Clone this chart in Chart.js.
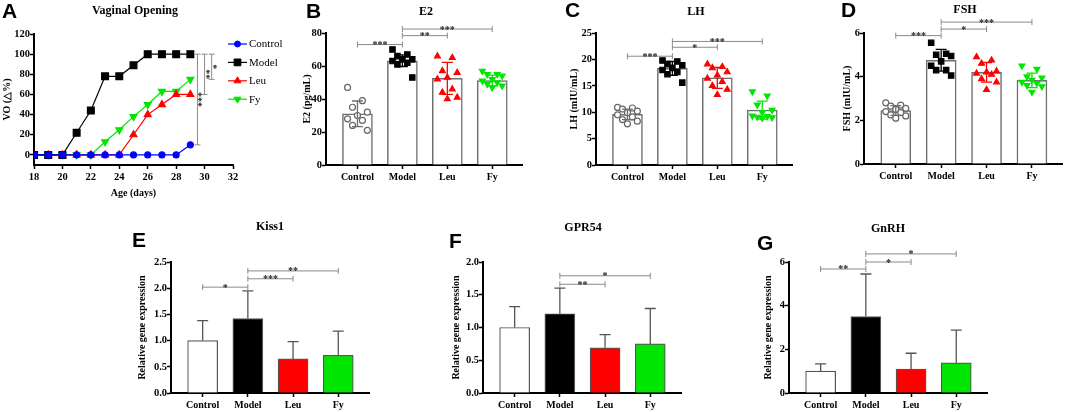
<!DOCTYPE html>
<html>
<head>
<meta charset="utf-8">
<script src="https://cdn.jsdelivr.net/npm/chart.js@4.4.0/dist/chart.umd.min.js"></script>
<style>
  html, body { margin: 0; padding: 0; background: #fff; overflow: hidden; }
  body { width: 1065px; height: 412px; position: relative; }
  canvas { position: absolute; }
  .lbl { position: absolute; font-family: "Liberation Sans", Arial, sans-serif; font-weight: bold; font-size: 21px; line-height: 21px; color: #000; }
  .ttl { position: absolute; font-family: "Liberation Serif", "Times New Roman", serif; font-weight: bold; font-size: 12px; line-height: 14px; transform: translateX(-50%); white-space: nowrap; color: #000; }
</style>
</head>
<body>
<canvas id="chartA"></canvas>
<canvas id="chartB"></canvas>
<canvas id="chartC"></canvas>
<canvas id="chartD"></canvas>
<canvas id="chartE"></canvas>
<canvas id="chartF"></canvas>
<canvas id="chartG"></canvas>

<div class="lbl" style="left:2px;top:0px">A</div>
<div class="lbl" style="left:306px;top:0px">B</div>
<div class="lbl" style="left:565px;top:-1px">C</div>
<div class="lbl" style="left:841px;top:-1px">D</div>
<div class="lbl" style="left:132px;top:229px">E</div>
<div class="lbl" style="left:449px;top:230px">F</div>
<div class="lbl" style="left:757px;top:232px">G</div>

<div class="ttl" style="left:135px;top:3px">Vaginal Opening</div>
<div class="ttl" style="left:426px;top:4px">E2</div>
<div class="ttl" style="left:696px;top:4px">LH</div>
<div class="ttl" style="left:965px;top:2px">FSH</div>
<div class="ttl" style="left:270px;top:219px">Kiss1</div>
<div class="ttl" style="left:583px;top:220px">GPR54</div>
<div class="ttl" style="left:888px;top:221px">GnRH</div>

<script>
const groups = ['Control', 'Model', 'Leu', 'Fy'];

// A - vaginal opening (%)
const voDays = [18, 19, 20, 21, 22, 23, 24, 25, 26, 27, 28, 29];
const voControl = [0, 0, 0, 0, 0, 0, 0, 0, 0, 0, 0, 10];
const voModel = [0, 0, 0, 22, 44, 78, 78, 89, 100, 100, 100, 100];
const voLeu = [0, 0, 0, 0, 0, 0, 0, 20, 40, 50, 60, 60];
const voFy = [0, 0, 0, 0, 0, 13, 25, 38, 50, 63, 63, 75];
const voSig = [[29.5, 10, 100, '***'], [30, 60, 100, '**'], [30.5, 75, 100, '*']];

// B - E2
const e2Mean = [31, 63.2, 52.5, 51.2];
const e2Sd = [7.8, 3.5, 9.7, 3.3];
const e2Control = [47, 39, 35, 32, 30, 28, 27, 24, 21];
const e2Model = [70, 67, 66, 64, 64, 63, 62, 61, 53];
const e2Leu = [66, 65, 57, 56, 53, 52, 46, 44, 41, 40];
const e2Fy = [57, 55, 55, 54, 52, 51, 50, 49, 48, 47];
const e2Sig = [[0, 1, 73, '***'], [1, 2, 78.4, '**'], [1, 3, 82.4, '***']];

// C - LH
const lhMean = [9.6, 18.3, 16.5, 10.4];
const lhSd = [1.0, 1.3, 2.0, 1.7];
const lhControl = [10.9, 10.8, 10.6, 10.2, 9.9, 9.5, 9.1, 8.6, 8.3, 7.8];
const lhModel = [19.8, 19.6, 19.1, 18.9, 18.4, 18.0, 17.6, 17.2, 15.6];
const lhLeu = [19.1, 18.6, 18.4, 17.6, 17.0, 16.4, 15.8, 15.0, 14.3, 13.3];
const lhFy = [13.9, 13.1, 11.4, 10.4, 10.0, 9.3, 9.2, 9.1, 9.0, 8.9];
const lhSig = [[0, 1, 20.6, '***'], [1, 2, 22.3, '*'], [1, 3, 23.4, '***']];

// D - FSH
const fshMean = [2.45, 4.75, 4.2, 3.83];
const fshSd = [0.22, 0.5, 0.45, 0.33];
const fshControl = [2.8, 2.7, 2.65, 2.55, 2.5, 2.4, 2.35, 2.25, 2.2, 2.1];
const fshModel = [5.55, 5.05, 5.0, 4.95, 4.7, 4.5, 4.3, 4.3, 4.05];
const fshLeu = [4.9, 4.75, 4.6, 4.25, 4.2, 4.15, 4.1, 3.9, 3.75, 3.4];
const fshFy = [4.5, 4.35, 4.0, 3.95, 3.85, 3.75, 3.7, 3.6, 3.55, 3.3];
const fshSig = [[0, 1, 5.88, '***'], [1, 2, 6.18, '*'], [1, 3, 6.5, '***']];

// E-G - relative gene expression
const kiss1Mean = [1.0, 1.42, 0.65, 0.72];
const kiss1Sd = [0.38, 0.53, 0.33, 0.46];
const kiss1Sig = [[0, 1, 2.02, '*'], [1, 2, 2.18, '***'], [1, 3, 2.33, '**']];
const gpr54Mean = [1.0, 1.21, 0.69, 0.75];
const gpr54Sd = [0.32, 0.39, 0.20, 0.54];
const gpr54Sig = [[1, 2, 1.66, '**'], [1, 3, 1.79, '*']];
const gnrhMean = [1.0, 3.5, 1.1, 1.38];
const gnrhSd = [0.33, 1.95, 0.72, 1.5];
const gnrhSig = [[0, 1, 5.68, '**'], [1, 2, 6.0, '*'], [1, 3, 6.37, '*']];

const serif = '"Liberation Serif", "Times New Roman", serif';
const tickFont = { family: serif, size: 10.5, weight: 'bold' };
const catFont = { family: serif, size: 10, weight: 'bold' };
const axTitleFont = { family: serif, size: 10, weight: 'bold' };
const green = '#00e600';

// marker look per group (Control, Model, Leu, Fy)
const markers = [
  { style: 'circle', rot: 0, r: 3, fill: '#ffffff', edge: '#666666' },
  { style: 'rect', rot: 0, r: 3.8, fill: '#000000', edge: '#000000' },
  { style: 'triangle', rot: 0, r: 3.4, fill: '#ff0000', edge: '#ff0000' },
  { style: 'triangle', rot: 180, r: 3.4, fill: green, edge: green }
];

// spread dots sideways inside each bar
function spread(j) {
  return ((j * 3) % 5 - 2) * 0.11;
}

function sizeCanvas(id, L, T, R, B, aw, xh, pr) {
  const pt = 24;
  const c = document.getElementById(id);
  const w = R - L + aw + pr, h = B - T + pt + xh;
  c.width = w;
  c.height = h;
  c.style.left = (L - aw) + 'px';
  c.style.top = (T - pt) + 'px';
  c.style.width = w + 'px';
  c.style.height = h + 'px';
  return { top: pt, right: pr, left: 0, bottom: 0 };
}

function yAxis(aw, title, min, max, step, decimals) {
  const ticks = { stepSize: step, font: tickFont, color: '#000', padding: 0 };
  if (decimals) ticks.callback = v => v.toFixed(decimals);
  return {
    min: min, max: max,
    ticks: ticks,
    grid: { display: true, drawOnChartArea: false, drawTicks: true, tickLength: 4, tickColor: '#000', tickWidth: 1.5 },
    border: { display: true, color: '#000', width: 2 },
    title: { display: true, text: title, font: axTitleFont, color: '#000', padding: { top: 1, bottom: 2 } },
    afterFit: s => { s.width = aw; }
  };
}

function catAxis(xh) {
  return {
    type: 'linear', min: -0.7, max: 3.68, offset: false,
    afterBuildTicks: s => { s.ticks = groups.map((g, i) => ({ value: i })); },
    ticks: { font: catFont, color: '#000', padding: 2, autoSkip: false, maxRotation: 0, callback: v => groups[v] },
    grid: { display: true, offset: false, drawOnChartArea: false, drawTicks: true, tickLength: 4, tickColor: '#000', tickWidth: 1.5 },
    border: { display: true, color: '#000', width: 2 },
    afterFit: s => { s.height = xh; }
  };
}

function errorBars(mean, sd, colors, upOnly) {
  return {
    id: 'errorBars',
    afterDatasetsDraw(chart) {
      const ctx = chart.ctx, xs = chart.scales.x, ys = chart.scales.y;
      ctx.save();
      ctx.lineWidth = 1.3;
      mean.forEach((m, i) => {
        const x = xs.getPixelForValue(i);
        const top = ys.getPixelForValue(m + sd[i]);
        const bot = ys.getPixelForValue(upOnly ? m : m - sd[i]);
        ctx.strokeStyle = colors[i];
        ctx.beginPath();
        ctx.moveTo(x, bot); ctx.lineTo(x, top);
        ctx.moveTo(x - 5.5, top); ctx.lineTo(x + 5.5, top);
        if (!upOnly) { ctx.moveTo(x - 5.5, bot); ctx.lineTo(x + 5.5, bot); }
        ctx.stroke();
      });
      ctx.restore();
    }
  };
}

function sigBrackets(items) {
  return {
    id: 'sigBrackets',
    afterDraw(chart) {
      const ctx = chart.ctx, xs = chart.scales.x, ys = chart.scales.y;
      ctx.save();
      items.forEach(([a, b, level, label]) => {
        const x1 = xs.getPixelForValue(a), x2 = xs.getPixelForValue(b), y = ys.getPixelForValue(level);
        ctx.strokeStyle = '#8a8a8a';
        ctx.lineWidth = 1;
        ctx.beginPath();
        ctx.moveTo(x1, y - 3); ctx.lineTo(x1, y + 3);
        ctx.moveTo(x1, y); ctx.lineTo(x2, y);
        ctx.moveTo(x2, y - 3); ctx.lineTo(x2, y + 3);
        ctx.stroke();
        ctx.fillStyle = '#222';
        ctx.font = 'bold 10px ' + serif;
        ctx.textAlign = 'center';
        ctx.textBaseline = 'alphabetic';
        ctx.fillText(label, (x1 + x2) / 2, y + 3.5);
      });
      ctx.restore();
    }
  };
}

function vBrackets(items) {
  return {
    id: 'vBrackets',
    afterDraw(chart) {
      const ctx = chart.ctx, xs = chart.scales.x, ys = chart.scales.y;
      items.forEach(([xv, lo, hi, label]) => {
        const x = xs.getPixelForValue(xv), y1 = ys.getPixelForValue(lo), y2 = ys.getPixelForValue(hi);
        ctx.save();
        ctx.strokeStyle = '#8a8a8a';
        ctx.lineWidth = 1;
        ctx.beginPath();
        ctx.moveTo(x - 3, y1); ctx.lineTo(x + 3, y1);
        ctx.moveTo(x, y1); ctx.lineTo(x, y2);
        ctx.moveTo(x - 3, y2); ctx.lineTo(x + 3, y2);
        ctx.stroke();
        ctx.translate(x, (y1 + y2) / 2);
        ctx.rotate(Math.PI / 2);
        ctx.fillStyle = '#222';
        ctx.font = 'bold 10px ' + serif;
        ctx.textAlign = 'center';
        ctx.textBaseline = 'alphabetic';
        ctx.fillText(label, 0, 2);
        ctx.restore();
      });
    }
  };
}

const sideLegend = {
  id: 'sideLegend',
  afterDraw(chart) {
    const ctx = chart.ctx, area = chart.chartArea;
    chart.data.datasets.forEach((ds, i) => {
      const y = area.top + 10 + i * 18.4;
      const x0 = area.right - 5;
      ctx.save();
      ctx.strokeStyle = ds.borderColor;
      ctx.lineWidth = 1.2;
      ctx.beginPath();
      ctx.moveTo(x0, y); ctx.lineTo(x0 + 19, y);
      ctx.stroke();
      ctx.fillStyle = ds.pointBackgroundColor;
      ctx.strokeStyle = ds.pointBorderColor;
      ctx.lineWidth = 1;
      Chart.helpers.drawPoint(ctx, { pointStyle: ds.pointStyle, rotation: ds.pointRotation, radius: ds.pointRadius, borderWidth: 1 }, x0 + 9.5, y);
      ctx.fillStyle = '#000';
      ctx.font = '11px ' + serif;
      ctx.textAlign = 'left';
      ctx.textBaseline = 'middle';
      ctx.fillText(ds.label, x0 + 21, y + 0.5);
      ctx.restore();
    });
  }
};

// ---- A: line chart ----
const voSeries = [voControl, voModel, voLeu, voFy];
const voColors = ['#0000ff', '#000000', '#ff0000', green];
const voRadius = [3, 4.8, 4, 4];
new Chart(document.getElementById('chartA'), {
  type: 'line',
  data: {
    datasets: voSeries.map((s, i) => ({
      label: groups[i],
      data: s.map((v, k) => ({ x: voDays[k], y: v })),
      borderColor: voColors[i],
      backgroundColor: voColors[i],
      pointBackgroundColor: voColors[i],
      pointBorderColor: voColors[i],
      pointStyle: markers[i].style,
      pointRotation: markers[i].rot,
      pointRadius: voRadius[i],
      borderWidth: 1.2,
      tension: 0
    }))
  },
  options: {
    responsive: false, animation: false, events: [],
    layout: { padding: sizeCanvas('chartA', 34, 34, 233, 165, 34, 36, 70) },
    plugins: { legend: { display: false }, tooltip: { enabled: false } },
    scales: {
      x: {
        type: 'linear', min: 18, max: 32,
        ticks: { stepSize: 2, font: tickFont, color: '#000', padding: 2 },
        grid: { display: true, drawOnChartArea: false, drawTicks: true, tickLength: 4, tickColor: '#000', tickWidth: 1.5 },
        border: { display: true, color: '#000', width: 2 },
        title: { display: true, text: 'Age (days)', font: axTitleFont, color: '#000', padding: { top: 2, bottom: 2 } },
        afterFit: s => { s.height = 36; }
      },
      y: Object.assign(yAxis(34, 'VO (△%)', -10, 120, 20), {
        afterBuildTicks: s => { s.ticks = [0, 20, 40, 60, 80, 100, 120].map(v => ({ value: v })); }
      })
    }
  },
  plugins: [sideLegend, vBrackets(voSig)]
});

// ---- B, C, D: bars with dots ----
function dotBar(id, box, aw, yTitle, yMax, yStep, mean, sd, points, sig) {
  const datasets = points.map((vals, g) => ({
    type: 'scatter',
    data: vals.map((v, j) => ({ x: g + spread(j), y: v })),
    pointStyle: markers[g].style,
    pointRotation: markers[g].rot,
    pointRadius: markers[g].r,
    pointBackgroundColor: markers[g].fill,
    pointBorderColor: markers[g].edge,
    pointBorderWidth: 1.2,
    order: 1
  }));
  datasets.push({
    type: 'bar',
    data: mean.map((m, i) => ({ x: i, y: m })),
    backgroundColor: '#ffffff',
    borderColor: '#6e6e6e',
    borderWidth: 1.5,
    barThickness: 30,
    order: 2
  });
  new Chart(document.getElementById(id), {
    type: 'bar',
    data: { datasets: datasets },
    options: {
      responsive: false, animation: false, events: [],
      layout: { padding: sizeCanvas(id, box[0], box[1], box[2], box[3], aw, 22, 4) },
      plugins: { legend: { display: false }, tooltip: { enabled: false } },
      scales: { x: catAxis(22), y: yAxis(aw, yTitle, 0, yMax, yStep) }
    },
    plugins: [errorBars(mean, sd, ['#6e6e6e', '#000000', '#ff0000', green], false), sigBrackets(sig)]
  });
}

dotBar('chartB', [326, 33, 524, 165], 26, 'E2 (pg/mL)', 80, 20, e2Mean, e2Sd,
  [e2Control, e2Model, e2Leu, e2Fy], e2Sig);
dotBar('chartC', [596, 33, 794, 165], 29, 'LH (mIU/mL)', 25, 5, lhMean, lhSd,
  [lhControl, lhModel, lhLeu, lhFy], lhSig);
dotBar('chartD', [864, 33, 1064, 164], 24, 'FSH (mIU/mL)', 6, 2, fshMean, fshSd,
  [fshControl, fshModel, fshLeu, fshFy], fshSig);

// ---- E, F, G: coloured bars ----
function geneBar(id, box, aw, yMax, yStep, decimals, mean, sd, sig) {
  new Chart(document.getElementById(id), {
    type: 'bar',
    data: {
      datasets: [{
        data: mean.map((m, i) => ({ x: i, y: m })),
        backgroundColor: ['#ffffff', '#000000', '#ff0000', green],
        borderColor: '#555555',
        borderWidth: 1.2,
        barThickness: 30
      }]
    },
    options: {
      responsive: false, animation: false, events: [],
      layout: { padding: sizeCanvas(id, box[0], box[1], box[2], box[3], aw, 22, 4) },
      plugins: { legend: { display: false }, tooltip: { enabled: false } },
      scales: { x: catAxis(22), y: yAxis(aw, 'Relative gene expression', 0, yMax, yStep, decimals) }
    },
    plugins: [errorBars(mean, sd, ['#555555', '#555555', '#555555', '#555555'], true), sigBrackets(sig)]
  });
}

geneBar('chartE', [171, 262, 369, 393], 36, 2.5, 0.5, 1, kiss1Mean, kiss1Sd, kiss1Sig);
geneBar('chartF', [483, 262, 681, 393], 34, 2.0, 0.5, 1, gpr54Mean, gpr54Sd, gpr54Sig);
geneBar('chartG', [789, 262, 987, 393], 28, 6, 2, 0, gnrhMean, gnrhSd, gnrhSig);
</script>
</body>
</html>
